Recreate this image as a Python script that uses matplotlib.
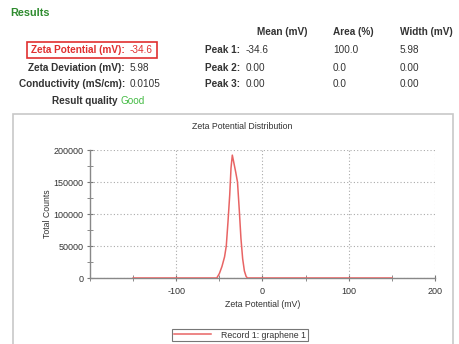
import matplotlib.pyplot as plt
from matplotlib.patches import Rectangle
from matplotlib.ticker import MultipleLocator

plt.rcParams['font.family'] = ['Liberation Sans', 'DejaVu Sans']
plt.rcParams['axes.unicode_minus'] = False

# zeta potential distribution, record 1: graphene 1
zeta_mv = [-150, -53, -50, -47, -44, -42, -40, -38, -36.5, -35, -33.5,
           -31, -29, -27, -25, -23, -21, -19, -17.5, 150]
counts = [0, 0, 7000, 18000, 33000, 50000, 88000, 130000, 172000, 192000,
          182000, 165000, 150000, 108000, 62000, 30000, 11000, 2500, 0, 0]

summary_labels = ["Zeta Potential (mV):", "Zeta Deviation (mV):", "Conductivity (mS/cm):"]
summary_values = ["-34.6", "5.98", "0.0105"]
peak_names = ["Peak 1:", "Peak 2:", "Peak 3:"]
peak_mean = ["-34.6", "0.00", "0.00"]
peak_area = ["100.0", "0.0", "0.0"]
peak_width = ["5.98", "0.00", "0.00"]
col_headers = ["Mean (mV)", "Area (%)", "Width (mV)"]

W, H = 460, 344
fig = plt.figure(figsize=(W / 100, H / 100), dpi=100)


def px(x, y):
    return x / W, 1 - y / H


dark = '#333333'
fs = 7.2

# results block
fig.text(*px(10, 13), "Results", color='#2e8b2e', fontsize=7.8, weight='bold', va='center')
for (x, txt) in zip([257, 333, 400], col_headers):
    fig.text(*px(x, 32), txt, color=dark, fontsize=fs, weight='bold', va='center')

rows_y = [50, 68, 84]
for i, y in enumerate(rows_y):
    col = '#e03030' if i == 0 else dark
    fig.text(*px(125, y), summary_labels[i], color=col, fontsize=fs, weight='bold',
             ha='right', va='center')
    fig.text(*px(130, y), summary_values[i], color=col, fontsize=fs, va='center')
    fig.text(*px(240, y), peak_names[i], color=dark, fontsize=fs, weight='bold',
             ha='right', va='center')
    fig.text(*px(246, y), peak_mean[i], color=dark, fontsize=fs, va='center')
    fig.text(*px(333, y), peak_area[i], color=dark, fontsize=fs, va='center')
    fig.text(*px(400, y), peak_width[i], color=dark, fontsize=fs, va='center')

fig.text(*px(118, 101), "Result quality", color=dark, fontsize=fs, weight='bold',
         ha='right', va='center')
fig.text(*px(121, 101), "Good", color='#44bb44', fontsize=fs, va='center')

# red frame around the zeta potential line
fig.patches.append(Rectangle(px(27, 58), 130 / W, 16 / H, transform=fig.transFigure,
                             fill=False, edgecolor='#e03030', linewidth=1.2))

# chart panel frame
fig.patches.append(Rectangle(px(13, 350), 440 / W, 236 / H, transform=fig.transFigure,
                             fill=False, edgecolor='#c8c8c8', linewidth=1.2))

ax_l, ax_r, ax_t, ax_b = 90, 435, 150, 278
ax = fig.add_axes([ax_l / W, 1 - ax_b / H, (ax_r - ax_l) / W, (ax_b - ax_t) / H])

line, = ax.plot(zeta_mv, counts, color='#e86464', linewidth=1.1,
                label="Record 1: graphene 1", zorder=3)

ax.set_xlim(-200, 200)
ax.set_ylim(0, 200000)
ax.set_xticks([-100, 0, 100, 200])
ax.xaxis.set_minor_locator(MultipleLocator(50))
ax.set_yticks([0, 50000, 100000, 150000, 200000])
ax.yaxis.set_minor_locator(MultipleLocator(25000))
ax.grid(True, which='major', linestyle=(0, (1, 2)), color='#aaaaaa', linewidth=0.8)
ax.set_axisbelow(True)

for s in ['top', 'right']:
    ax.spines[s].set_visible(False)
for s in ['left', 'bottom']:
    ax.spines[s].set_color('#888888')
    ax.spines[s].set_linewidth(1.0)

ax.tick_params(which='both', direction='inout', color='#777777', labelsize=6.5,
               labelcolor=dark, pad=2)
ax.tick_params(which='major', length=5)
ax.tick_params(which='minor', length=4)
ax.tick_params(axis='x', pad=4)

ax.set_title("Zeta Potential Distribution", fontsize=6.3, color=dark, pad=15, x=0.44)
ax.set_xlabel("Zeta Potential (mV)", fontsize=6.3, color=dark, labelpad=3)
ax.set_ylabel("Total Counts", fontsize=6.3, color=dark, labelpad=1)

leg = fig.legend(handles=[line], loc='center', bbox_to_anchor=px(240, 335),
                 fontsize=6.3, frameon=True, fancybox=False, handlelength=4.2,
                 borderpad=0.2, handletextpad=1.2, edgecolor='#555555')
leg.get_frame().set_linewidth(0.8)
for t in leg.get_texts():
    t.set_color(dark)

fig.savefig("out.png", dpi=100)
